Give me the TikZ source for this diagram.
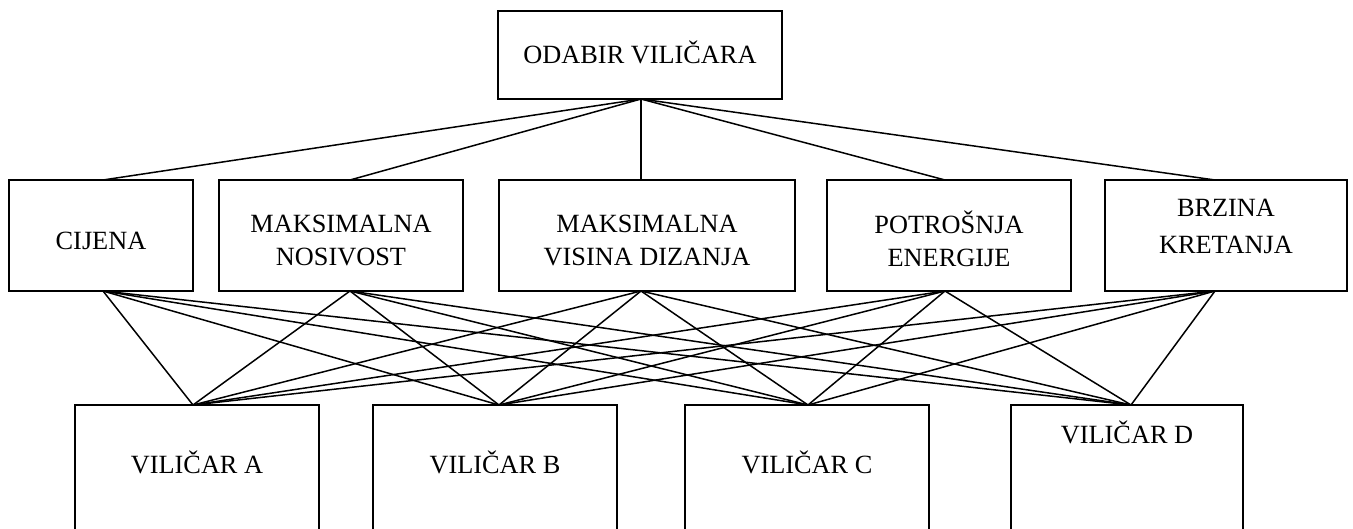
\documentclass[tikz,border=0pt]{standalone}
\usepackage{fontspec}
\setmainfont{Liberation Serif}
\begin{document}
\begin{tikzpicture}[x=1pt,y=-1pt]
\tikzset{
  box/.style={draw, line width=1.8pt, inner sep=0pt, outer sep=0pt, rectangle},
  txt/.style={font=\fontsize{26.3}{33}\selectfont, align=center, inner sep=0pt,
              text height=17.5pt, text depth=0pt},
  link/.style={line width=1.5pt}
}
\useasboundingbox (0,0) rectangle (1353,529);
% top
\node[box, minimum width=284, minimum height=88] (top) at (640,55) {};
\node[txt] (ttop) at (640,55) {ODABIR VILIČARA};
% criteria
\node[box, minimum width=184, minimum height=111] (m1) at (101,235.5) {};
\node[box, minimum width=244, minimum height=111] (m2) at (341,235.5) {};
\node[box, minimum width=296, minimum height=111] (m3) at (647,235.5) {};
\node[box, minimum width=244, minimum height=111] (m4) at (949,235.5) {};
\node[box, minimum width=242, minimum height=111] (m5) at (1226,235.5) {};
\node[txt] (t1) at (101,241) {CIJENA};
\node[txt] (t2) at (341,257) {MAKSIMALNA\\NOSIVOST};
\node[txt] (t3) at (647,256.5) {MAKSIMALNA\\VISINA DIZANJA};
\node[txt] (t4) at (949,257.5) {POTROŠNJA\\ENERGIJE};
\node[txt] (t5) at (1226,244.5) {BRZINA\\[4pt]KRETANJA};
% alternatives
\node[box, minimum width=244, minimum height=140] (b1) at (197,475) {};
\node[box, minimum width=244, minimum height=140] (b2) at (495,475) {};
\node[box, minimum width=244, minimum height=140] (b3) at (807,475) {};
\node[box, minimum width=232, minimum height=140] (b4) at (1127,475) {};
\node[txt] (u1) at (197,465) {VILIČAR A};
\node[txt] (u2) at (495,465) {VILIČAR B};
\node[txt] (u3) at (807,465) {VILIČAR C};
\node[txt] (u4) at (1127,435) {VILIČAR D};
% attachment points
\coordinate (topS) at ([xshift=1pt]top.south);
\foreach \n/\d in {m1/2, m2/9, m3/-6, m4/-4, m5/-11}{
  \coordinate (\n N) at ([xshift=\d pt]\n.north);
  \coordinate (\n S) at ([xshift=\d pt]\n.south);
}
\foreach \n/\d in {b1/-4, b2/4, b3/1, b4/4}{
  \coordinate (\n N) at ([xshift=\d pt]\n.north);
}
% connectors
\foreach \m in {m1,m2,m3,m4,m5}{
  \draw[link] (topS) -- (\m N);
  \foreach \b in {b1,b2,b3,b4}{
    \draw[link] (\m S) -- (\b N);
  }
}
\end{tikzpicture}
\end{document}
